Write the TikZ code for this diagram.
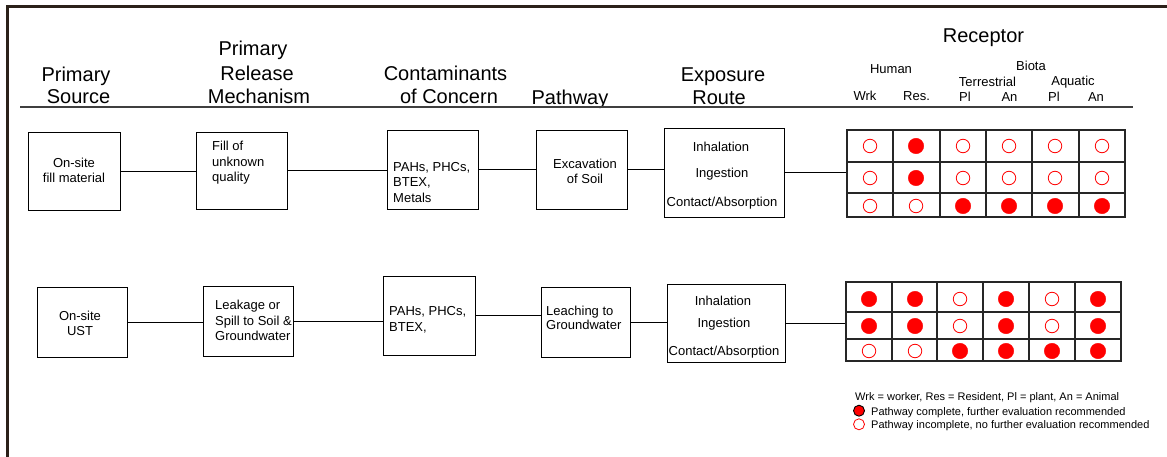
\documentclass[tikz,border=0pt]{standalone}
\usepackage{fontspec}
\setmainfont{Liberation Sans}
\usetikzlibrary{positioning}
\definecolor{framebrown}{HTML}{2B2119}
\definecolor{rulegray}{HTML}{3F3F3F}
\newcommand{\headfont}{\fontsize{20}{23.5}\selectfont}
\newcommand{\subfont}{\fontsize{13}{15}\selectfont}
\newcommand{\boxfont}{\fontsize{13}{15.5}\selectfont}
\newcommand{\notefont}{\fontsize{11}{13}\selectfont}
\tikzset{stage box/.style={draw,line width=0.9pt,inner sep=0pt},
         box text/.style={font=\boxfont,inner sep=0pt},
         head/.style={font=\headfont,inner sep=0pt,anchor=base},
         sub head/.style={font=\subfont,inner sep=0pt,anchor=base},
         note/.style={font=\notefont,inner sep=0pt,anchor=base west},
         link/.style={line width=0.9pt},
         cell/.style={line width=1.1pt,draw=black!85},
         dot full/.style={circle,fill=red,draw=red,minimum size=15.5pt,inner sep=0pt},
         dot open/.style={circle,draw=red,fill=white,line width=0.8pt,minimum size=13.5pt,inner sep=0pt}
}

\begin{document}
\begin{tikzpicture}[x=1pt,y=-1pt]
\useasboundingbox (0,0) rectangle (1167,457);
\draw[framebrown,line width=3pt] (7.5,457) -- (7.5,6.5) -- (1167,6.5);

% column heads
\node[head] (hsrc1) at (76,81.7) {Primary};
\node[head] (hsrc2) at (78.5,104) {Source};
\node[head] (hrel1) at (253,56) {Primary};
\node[head] (hrel2) at (257,80.5) {Release};
\node[head] (hrel3) at (259,104) {Mechanism};
\node[head] (hcoc1) at (445.5,81) {Contaminants};
\node[head] (hcoc2) at (449,104) {of Concern};
\node[head] (hpath) at (570,105) {Pathway};
\node[head] (hexp1) at (723,82) {Exposure};
\node[head] (hexp2) at (719,105) {Route};
\node[head] (hrec) at (983.5,43) {Receptor};
\node[sub head] (hhum) at (891,74) {Human};
\node[sub head] (hbio) at (1031,71) {Biota};
\node[sub head] (hter) at (987.5,86.7) {Terrestrial};
\node[sub head] (haqu) at (1073,86) {Aquatic};
\node[sub head] (hwrk) at (865,100.7) {Wrk};
\node[sub head] (hres) at (916.5,100.7) {Res.};
\node[sub head] (htpl) at (965,101.7) {Pl};
\node[sub head] (htan) at (1009.5,101.7) {An};
\node[sub head] (hapl) at (1054,101.7) {Pl};
\node[sub head] (haan) at (1096,101.7) {An};
\draw[rulegray,line width=1.2pt] (20,107) -- (1133,107);

% first chain
\node[stage box,minimum width=92pt,minimum height=78pt] (s1) at (74,171) {};
\node[stage box,minimum width=91pt,minimum height=77pt] (m1) at (241.5,170.5) {};
\node[stage box,minimum width=91pt,minimum height=79pt] (c1) at (432.5,169.5) {};
\node[stage box,minimum width=91pt,minimum height=79pt] (p1) at (581.5,169.5) {};
\node[stage box,minimum width=120pt,minimum height=89pt] (e1) at (724,172.5) {};
\node[box text,align=center] (s1t) at (74,170.5) {On-site\\fill material};
\node[box text,align=left,anchor=west] (m1t) at (212,163) {Fill of\\unknown\\quality};
\node[box text,align=left,anchor=west] (c1t) at (393,182.5) {PAHs, PHCs,\\BTEX,\\Metals};
\node[box text,align=center] (p1t) at (585,171.5) {Excavation\\of Soil};
\node[box text] (e1a) at (721,147) {Inhalation};
\node[box text] (e1b) at (722,174) {Ingestion};
\node[box text] (e1c) at (722,203) {Contact/Absorption};

\node[stage box,cell,minimum width=278pt,minimum height=87pt] (g1) at (986,173.5) {};
\foreach \c in {893,940,986,1032,1079}
    \draw[cell] (\c,130) -- (\c,217);
\foreach \r in {162,193}
    \draw[cell] (847,\r) -- (1125,\r);
\foreach \y/\row [count=\j] in {146/{open,full,open,open,open,open},
                                178/{open,full,open,open,open,open},
                                206/{open,open,full,full,full,full}}
    \foreach \x [count=\i] in {870,916,963,1009,1055,1102}{
        \foreach \kind [count=\n] in \row {
            \ifnum\n=\i \node[dot \kind] (a\j-\i) at (\x,\y) {}; \fi
        }
    };

\draw[link] (s1.east) -- (s1.east -| m1.west);
\draw[link] (m1.east) -- (m1.east -| c1.west);
\draw[link] (c1.east) -- (c1.east -| p1.west);
\draw[link] (p1.east) -- (p1.east -| e1.west);
\draw[link] (e1.east) -- (e1.east -| g1.west);

% second chain
\node[stage box,minimum width=90pt,minimum height=70pt] (s2) at (82,322) {};
\node[stage box,minimum width=90pt,minimum height=70pt] (m2) at (248,321) {};
\node[stage box,minimum width=92pt,minimum height=79pt] (c2) at (429,315.5) {};
\node[stage box,minimum width=89pt,minimum height=70pt] (p2) at (585.5,322) {};
\node[stage box,minimum width=118pt,minimum height=78pt] (e2) at (726,323) {};
\node[box text,align=center] (s2t) at (80,323.5) {On-site\\UST};
\node[box text,align=left,anchor=west] (m2t) at (215,320.5) {Leakage or\\Spill to Soil \&\\Groundwater};
\node[box text,align=left,anchor=west] (c2t) at (389,320) {PAHs, PHCs,\\BTEX,};
\node[box text,align=left,anchor=west] (p2t) at (546,318) {Leaching to\\[-2pt]Groundwater};
\node[box text] (e2a) at (723,301) {Inhalation};
\node[box text] (e2b) at (724,324) {Ingestion};
\node[box text] (e2c) at (724,352) {Contact/Absorption};

\node[stage box,cell,minimum width=275pt,minimum height=79pt] (g2) at (983.5,321.5) {};
\foreach \c in {892,937,983,1029,1075}
    \draw[cell] (\c,282) -- (\c,361);
\foreach \r in {312,339}
    \draw[cell] (846,\r) -- (1121,\r);
\foreach \y/\row [count=\j] in {299/{full,full,open,full,open,full},
                                326/{full,full,open,full,open,full},
                                351/{open,open,full,full,full,full}}
    \foreach \x [count=\i] in {869,915,960,1006,1052,1098}{
        \foreach \kind [count=\n] in \row {
            \ifnum\n=\i \node[dot \kind] (b\j-\i) at (\x,\y) {}; \fi
        }
    };

\draw[link] (s2.east) -- (s2.east -| m2.west);
\draw[link] (m2.east) -- (m2.east -| c2.west);
\draw[link] (c2.east) -- (c2.east -| p2.west);
\draw[link] (p2.east) -- (p2.east -| e2.west);
\draw[link] (e2.east) -- (e2.east -| g2.west);

% key
\node[note] (key) at (855,400) {Wrk = worker, Res = Resident, Pl = plant, An = Animal};
\node[dot full,draw=black,line width=0.9pt,minimum size=11pt] (keyfull) at (859,410.7) {};
\node[note] (keyfullt) at (871,415) {Pathway complete, further evaluation recommended};
\node[dot open,minimum size=11pt] (keyopen) at (859,424.3) {};
\node[note] (keyopent) at (871,428) {Pathway incomplete, no further evaluation recommended};
\end{tikzpicture}
\end{document}
